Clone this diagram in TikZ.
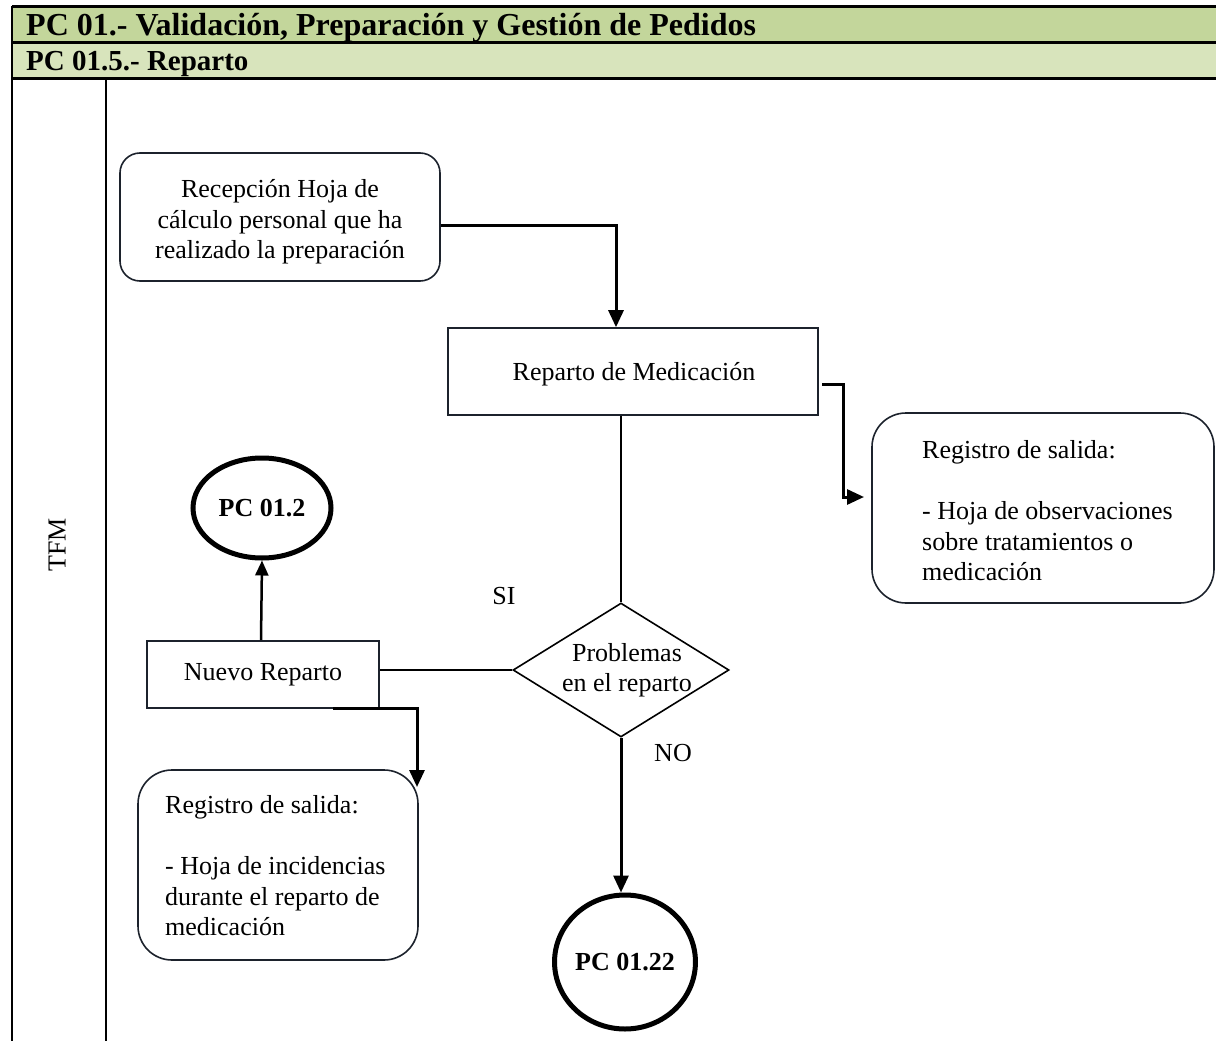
\documentclass[tikz,border=0pt]{standalone}
\usepackage{fontspec}
\setmainfont{Liberation Serif}
\usetikzlibrary{arrows.meta,shapes.geometric,calc}

\definecolor{titlegreen}{RGB}{195,214,155}
\definecolor{subgreen}{RGB}{216,228,188}
\definecolor{boxline}{RGB}{28,34,44}

\tikzset{
  body/.style={font=\fontsize{26}{30.5}\selectfont},
  procbox/.style={draw=boxline, line width=1.6pt, body, inner sep=0pt, align=center},
  roundbox/.style={procbox, rounded corners=20pt},
  notebox/.style={draw=boxline, line width=1.6pt, rounded corners=34pt, inner sep=0pt},
  notetext/.style={body, anchor=west, align=left, inner sep=0pt},
  endpoint/.style={draw=black, ellipse, line width=5pt, inner sep=0pt,
    font=\fontsize{26}{30}\selectfont\bfseries},
  decision/.style={draw=black, diamond, line width=1.6pt, inner sep=0pt},
  conn/.style={draw=black, line width=3pt, -{Triangle[length=17pt,width=15pt]}},
  plain/.style={draw=black, line width=2pt},
  tag/.style={body, inner sep=0pt}
}

\begin{document}
\begin{tikzpicture}[x=1pt,y=-1pt]
\useasboundingbox (0,0) rectangle (1216,1041);

% header bands
\fill[titlegreen] (12,7) rectangle (1216,43);
\fill[subgreen] (12,43) rectangle (1216,79);
\draw[line width=3pt] (12,7) -- (1216,7);
\draw[line width=3pt] (12,43) -- (1216,43);
\draw[line width=3pt] (12,79) -- (1216,79);
\draw[line width=2.5pt] (12,6) -- (12,1041);
\draw[line width=2pt] (106,79) -- (106,1041);
\node[anchor=west, inner sep=0pt, font=\fontsize{32}{36}\selectfont\bfseries] (title) at (26,28) {PC 01.- Validación, Preparación y Gestión de Pedidos};
\node[anchor=west, inner sep=0pt, font=\fontsize{29}{33}\selectfont\bfseries] (subtitle) at (26,64) {PC 01.5.- Reparto};

% lane label
\node[tag, rotate=90] (lane) at (57,545) {TFM};

% process nodes
\node[roundbox, minimum width=320pt, minimum height=128pt] (rec) at (280,217) {};
\node[tag, align=center] (rectext) at (280,222)
  {Recepción Hoja de\\cálculo personal que ha\\realizado la preparación};
\node[procbox, minimum width=370pt, minimum height=87pt] (rep) at (633,371.5) {};
\node[tag] (reptext) at (634,374) {Reparto de Medicación};
\node[notebox, minimum width=342pt, minimum height=190pt] (reg1) at (1043,508) {};
\node[notetext] (reg1text) at (922,511)
  {Registro de salida:\\[30.5pt]- Hoja de observaciones\\sobre tratamientos o\\medicación};
\node[decision, minimum width=216pt, minimum height=134pt] (dec) at (621,670) {};
\node[tag, align=center] (dectext) at (627,670) {Problemas\\en el reparto};
\node[procbox, minimum width=232pt, minimum height=67pt] (nuevo) at (263,674.5)
  {Nuevo Reparto};
\node[endpoint, minimum width=138pt, minimum height=100pt] (pc2) at (262,508) {PC 01.2};
\node[notebox, minimum width=280pt, minimum height=190pt] (reg2) at (278,865) {};
\node[notetext] (reg2text) at (165,866)
  {Registro de salida:\\[30.5pt]- Hoja de incidencias\\durante el reparto de\\medicación};
\node[endpoint, minimum width=140pt, minimum height=134pt] (pc22) at (625,962) {PC 01.22};

% branch labels
\node[tag] (si) at (504,596) {SI};
\node[tag] (no) at (673,753) {NO};

% connector end points
\coordinate (r1a) at (822,384);
\coordinate (r1b) at (864,497);
\coordinate (r2a) at (333,708);
\coordinate (r2b) at (417,787);

% connectors
\draw[conn] ([yshift=-8pt]rec.east) -| ([xshift=-17pt]rep.north);
\draw[conn] (r1a) -- ++(21,0) |- (r1b);
\draw[plain] ([xshift=-12pt]rep.south) -- (dec.north);
\draw[plain] (dec.west) -- (dec.west -| nuevo.east);
\draw[conn, line width=2.5pt, -{Triangle[length=15pt,width=13pt]}] ([xshift=-2pt]nuevo.north) -- (pc2.south);
\draw[conn] (r2a) -| (r2b);
\draw[conn] (dec.south) -- (dec.south |- pc22.north);
\end{tikzpicture}
\end{document}
